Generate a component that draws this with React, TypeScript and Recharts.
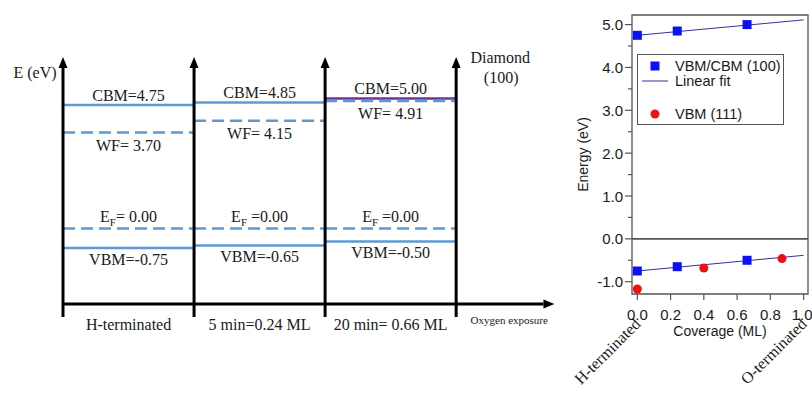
import React from "react";
import {
  ComposedChart,
  Line,
  Scatter,
  XAxis,
  YAxis,
  ReferenceLine,
  ReferenceDot,
  ReferenceArea,
  Legend,
} from "recharts";

// ---- band diagram (left) ----
const stages = ["H-terminated", "5 min=0.24 ML", "20 min= 0.66 ML"];
const cbm = [4.75, 4.85, 5.0];
const wf = [3.7, 4.15, 4.91];
const ef = [0, 0, 0];
const vbm = [-0.75, -0.65, -0.5];
const cbmLabels = ["CBM=4.75", "CBM=4.85", "CBM=5.00"];
const wfLabels = ["WF= 3.70", "WF= 4.15", "WF= 4.91"];
const efLabels = ["= 0.00", " =0.00", " =0.00"];
const vbmLabels = ["VBM=-0.75", "VBM=-0.65", "VBM=-0.50"];

// ---- energy vs coverage (right) ----
const cov100 = [0, 0.24, 0.66];
const cbm100 = [4.75, 4.85, 5.0];
const vbm100 = [-0.75, -0.65, -0.5];
const cov111 = [0, 0.4, 0.87];
const vbm111 = [-1.17, -0.68, -0.46];
const fitX = [0, 1];
const cbmFit = [4.75, 5.11];
const vbmFit = [-0.75, -0.385];
const xTicks = [0, 0.2, 0.4, 0.6, 0.8, 1.0];
const yTicks = [-1, -0.5, 0, 0.5, 1, 1.5, 2, 2.5, 3, 3.5, 4, 4.5, 5];
const endLabels = ["H-terminated", "O-terminated"];
const legendNames = ["VBM/CBM (100)", "Linear fit", "VBM (111)"];

const SERIF = "'Liberation Serif', 'Times New Roman', Times, serif";
const SANS = "'Liberation Sans', Arial, Helvetica, sans-serif";
const INK = "#1a1a1a";
const LEVEL_BLUE = "#5b9bd5";
const LEVEL_PURPLE = "#7030a0";
const SQ_BLUE = "#0a12f5";
const DOT_RED = "#ee1111";
const FIT = "#33339a";
const FRAME = "#555";

// diagram scale limits
const E_TOP = 6.6;
const E_AXIS = -2.9;
const E_BASE = -3.4;
const X_END = 3.75;

const pts = (xs: number[], ys: number[]) => xs.map((x, i) => ({ x, y: ys[i] }));

function textShape(content: React.ReactNode, dx: number, dy: number, size = 16) {
  return (p: any) => (
    <text x={p.cx + dx} y={p.cy + dy} textAnchor="middle" fontSize={size} fontFamily={SERIF} fill={INK}>
      {content}
    </text>
  );
}

function ArrowLine(p: any) {
  const { x1, y1, x2, y2 } = p;
  const a = Math.atan2(y2 - y1, x2 - x1);
  const len = 11;
  const half = 4.5;
  const bx = x2 - len * Math.cos(a);
  const by = y2 - len * Math.sin(a);
  const px = -Math.sin(a) * half;
  const py = Math.cos(a) * half;
  return (
    <g>
      <line x1={x1} y1={y1} x2={bx} y2={by} stroke="#000" strokeWidth={3} />
      <polygon points={`${x2},${y2} ${bx + px},${by + py} ${bx - px},${by - py}`} fill="#000" />
    </g>
  );
}

function StageTick(p: any) {
  const i = Math.floor(p.payload.value);
  return (
    <text x={p.x} y={p.y + 26} textAnchor="middle" fontSize={16} fontFamily={SERIF} fill={INK}>
      {stages[i]}
    </text>
  );
}

function BandDiagram() {
  const bounds = [0, ...stages.map((_, i) => i + 1)];
  const cbmColors = [LEVEL_BLUE, LEVEL_BLUE, LEVEL_PURPLE];
  return (
    <ComposedChart width={571} height={394} margin={{ top: 57, right: 10, bottom: 60, left: 63 }}>
      <XAxis
        type="number"
        dataKey="x"
        domain={[0, 3.8]}
        ticks={stages.map((_, i) => i + 0.5)}
        interval={0}
        axisLine={false}
        tickLine={false}
        tickSize={0}
        tickMargin={0}
        height={30}
        tick={StageTick}
        allowDataOverflow
      />
      <YAxis type="number" domain={[E_AXIS, E_TOP]} hide allowDataOverflow />

      {stages.map((_, i) => (
        <ReferenceLine
          key={"cbm" + i}
          segment={[{ x: i, y: cbm[i] }, { x: i + 1, y: cbm[i] }]}
          stroke={cbmColors[i]}
          strokeWidth={2.5}
          ifOverflow="visible"
        />
      ))}
      {stages.map((_, i) => (
        <ReferenceLine
          key={"wf" + i}
          segment={[{ x: i, y: wf[i] }, { x: i + 1, y: wf[i] }]}
          stroke={LEVEL_BLUE}
          strokeWidth={2.5}
          strokeDasharray="12 6"
          ifOverflow="visible"
        />
      ))}
      {stages.map((_, i) => (
        <ReferenceLine
          key={"ef" + i}
          segment={[{ x: i, y: ef[i] }, { x: i + 1, y: ef[i] }]}
          stroke={LEVEL_BLUE}
          strokeWidth={2.5}
          strokeDasharray="12 6"
          ifOverflow="visible"
        />
      ))}
      {stages.map((_, i) => (
        <ReferenceLine
          key={"vbm" + i}
          segment={[{ x: i, y: vbm[i] }, { x: i + 1, y: vbm[i] }]}
          stroke={LEVEL_BLUE}
          strokeWidth={2.5}
          ifOverflow="visible"
        />
      ))}

      {bounds.map((b) => (
        <ReferenceLine
          key={"b" + b}
          segment={[{ x: b, y: E_BASE }, { x: b, y: E_TOP }]}
          shape={ArrowLine}
          ifOverflow="visible"
        />
      ))}
      <ReferenceLine
        segment={[{ x: 0, y: E_AXIS }, { x: X_END, y: E_AXIS }]}
        shape={ArrowLine}
        ifOverflow="visible"
      />

      {stages.map((_, i) => (
        <ReferenceDot key={"lc" + i} x={i + 0.5} y={cbm[i]} r={0} ifOverflow="visible" shape={textShape(cbmLabels[i], 0, -4.5)} />
      ))}
      {stages.map((_, i) => (
        <ReferenceDot key={"lw" + i} x={i + 0.5} y={wf[i]} r={0} ifOverflow="visible" shape={textShape(wfLabels[i], 0, 18.5)} />
      ))}
      {stages.map((_, i) => (
        <ReferenceDot
          key={"le" + i}
          x={i + 0.5}
          y={ef[i]}
          r={0}
          ifOverflow="visible"
          shape={textShape(
            <>
              E<tspan dy={4} fontSize={11}>F</tspan>
              <tspan dy={-4}>{efLabels[i]}</tspan>
            </>,
            0,
            -6.5
          )}
        />
      ))}
      {stages.map((_, i) => (
        <ReferenceDot key={"lv" + i} x={i + 0.5} y={vbm[i]} r={0} ifOverflow="visible" shape={textShape(vbmLabels[i], 0, 16.5)} />
      ))}

      <ReferenceDot x={0} y={E_TOP} r={0} ifOverflow="visible" shape={textShape("E (eV)", -28, 20.5)} />
      <ReferenceDot x={stages.length} y={E_TOP} r={0} ifOverflow="visible" shape={textShape("Diamond", 44, 5.5)} />
      <ReferenceDot x={stages.length} y={E_TOP} r={0} ifOverflow="visible" shape={textShape("(100)", 45, 25.5)} />
      <ReferenceDot
        x={(stages.length + X_END) / 2 + 0.03}
        y={E_AXIS}
        r={0}
        ifOverflow="visible"
        shape={textShape("Oxygen exposure", 0, 19.5, 11)}
      />
    </ComposedChart>
  );
}

// ---- right chart pieces ----
const X_DOM: [number, number] = [-0.032, 1.0265];
const Y_DOM: [number, number] = [-1.287, 5.224];

function EnergyTick(p: any) {
  const { x, y, payload } = p;
  const v = payload.value as number;
  const major = Number.isInteger(v);
  return (
    <g>
      <line x1={x - (major ? 7 : 4)} x2={x} y1={y} y2={y} stroke={FRAME} strokeWidth={1.2} />
      {major && (
        <text x={x - 9} y={y + 5.5} textAnchor="end" fontSize={15} fontFamily={SANS} fill={INK}>
          {v.toFixed(1)}
        </text>
      )}
    </g>
  );
}

function CoverageTick(p: any) {
  const { x, y, payload, index } = p;
  const v = payload.value as number;
  const last = index === xTicks.length - 1;
  const end = index === 0 ? endLabels[0] : last ? endLabels[1] : null;
  const ax = x + 4;
  const ay = y + 31;
  return (
    <g>
      <line x1={x} x2={x} y1={y} y2={y + 6} stroke={FRAME} strokeWidth={1.2} />
      <text x={last ? x - 1.5 : x} y={y + 26} textAnchor="middle" fontSize={15} fontFamily={SANS} fill={INK}>
        {v.toFixed(1)}
      </text>
      {end && (
        <text
          x={ax}
          y={ay}
          textAnchor="end"
          fontSize={16}
          fontFamily={SERIF}
          fill={INK}
          transform={`rotate(-45 ${ax} ${ay})`}
        >
          {end}
        </text>
      )}
    </g>
  );
}

function Square(p: any) {
  return <rect x={p.cx - 4.5} y={p.cy - 4.5} width={9} height={9} fill={SQ_BLUE} />;
}

function RedDot(p: any) {
  return <circle cx={p.cx} cy={p.cy} r={4.5} fill={DOT_RED} />;
}

function LegendBox() {
  return (
    <svg width={147} height={71} style={{ display: "block" }}>
      <rect x={0.5} y={0.5} width={146} height={70} fill="#fff" stroke={FRAME} strokeWidth={1} />
      <rect x={13.5} y={7.5} width={9} height={9} fill={SQ_BLUE} />
      <line x1={5} x2={31} y1={27} y2={27} stroke={FIT} strokeWidth={1} />
      <circle cx={18} cy={60} r={4.5} fill={DOT_RED} />
      <text x={38} y={17} fontSize={14.5} fontFamily={SANS} fill={INK}>{legendNames[0]}</text>
      <text x={38} y={32} fontSize={14.5} fontFamily={SANS} fill={INK}>{legendNames[1]}</text>
      <text x={38} y={65} fontSize={14.5} fontFamily={SANS} fill={INK}>{legendNames[2]}</text>
    </svg>
  );
}

function CoverageChart() {
  return (
    <ComposedChart width={252} height={394} margin={{ top: 15, right: 4, bottom: 70, left: 32 }}>
      <XAxis
        type="number"
        dataKey="x"
        domain={X_DOM}
        ticks={xTicks}
        interval={0}
        tickSize={0}
        tickMargin={0}
        axisLine={false}
        tickLine={false}
        tick={CoverageTick}
        height={30}
        allowDataOverflow
        label={(p: any) => {
          const vb = p.viewBox;
          return (
            <text x={vb.x + vb.width / 2} y={vb.y + 42} textAnchor="middle" fontSize={14} fontFamily={SANS} fill={INK}>
              Coverage (ML)
            </text>
          );
        }}
      />
      <YAxis
        type="number"
        dataKey="y"
        domain={Y_DOM}
        ticks={yTicks}
        interval={0}
        tickSize={0}
        tickMargin={0}
        axisLine={false}
        tickLine={false}
        tick={EnergyTick}
        width={40}
        allowDataOverflow
        label={(p: any) => {
          const vb = p.viewBox;
          const cx = vb.x - 9;
          const cy = vb.y + vb.height / 2;
          return (
            <text
              x={cx}
              y={cy}
              textAnchor="middle"
              dominantBaseline="central"
              fontSize={14}
              fontFamily={SANS}
              fill={INK}
              transform={`rotate(-90 ${cx} ${cy})`}
            >
              Energy (eV)
            </text>
          );
        }}
      />
      <ReferenceArea
        x1={X_DOM[0]}
        x2={X_DOM[1]}
        y1={Y_DOM[0]}
        y2={Y_DOM[1]}
        fill="none"
        fillOpacity={0}
        stroke={FRAME}
        strokeWidth={1.3}
        ifOverflow="visible"
      />
      <ReferenceLine y={0} stroke={FRAME} strokeWidth={1.6} />
      <Line data={pts(fitX, cbmFit)} dataKey="y" type="linear" stroke={FIT} strokeWidth={1} dot={false} isAnimationActive={false} />
      <Line data={pts(fitX, vbmFit)} dataKey="y" type="linear" stroke={FIT} strokeWidth={1} dot={false} isAnimationActive={false} />
      <Scatter data={pts(cov100, cbm100)} dataKey="y" shape={Square} isAnimationActive={false} />
      <Scatter data={pts(cov100, vbm100)} dataKey="y" shape={Square} isAnimationActive={false} />
      <Scatter data={pts(cov111, vbm111)} dataKey="y" shape={RedDot} isAnimationActive={false} />
      <Legend
        content={LegendBox}
        layout="vertical"
        align="center"
        verticalAlign="middle"
        wrapperStyle={{ left: 77, top: 54, width: 147, height: 71 }}
      />
    </ComposedChart>
  );
}

export default function App() {
  return (
    <div style={{ position: "absolute", left: 0, top: 0, width: 812, height: 394, background: "#fff", overflow: "hidden" }}>
      <div style={{ position: "absolute", left: 0, top: 0 }}>
        <BandDiagram />
      </div>
      <div style={{ position: "absolute", left: 560, top: 0 }}>
        <CoverageChart />
      </div>
    </div>
  );
}
